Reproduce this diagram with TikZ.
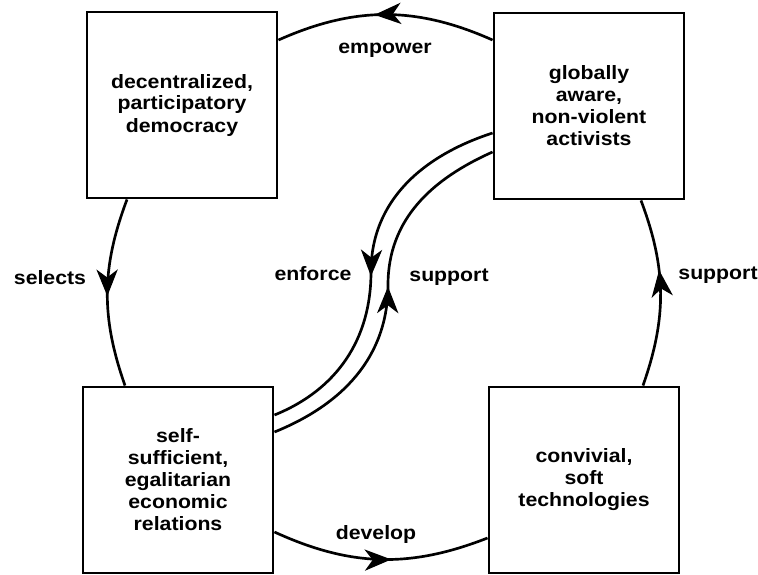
\documentclass[tikz,border=0pt]{standalone}
\usepackage{fontspec}
\setmainfont{Liberation Sans}[FakeStretch=1.1]
\usetikzlibrary{arrows.meta,decorations.markings}

\tikzset{
  box/.style={draw, line width=2.2pt, minimum width=142.5pt, minimum height=139.5pt, align=center, inner sep=2pt},
  lbl/.style={inner sep=0pt},
  link/.style={line width=2pt},
  midarrow/.style={postaction={decorate}, decoration={markings,
      mark=at position #1 with {\arrow[line width=1pt]{Stealth[length=20pt,width=16pt,inset=6pt]}}}}
}

\begin{document}
\begin{tikzpicture}[x=0.75pt, y=0.75pt, font=\bfseries\fontsize{14.5pt}{16.5pt}\selectfont]
        \useasboundingbox (0,0) rectangle (758,-575);

        \node[box] (dem)  at (182,-105) {decentralized,\\participatory\\democracy};
        \node[box] (act)  at (589,-106) {globally\\aware,\\non-violent\\activists};
        \node[box] (eco)  at (178,-480) {self-\\sufficient,\\egalitarian\\economic\\relations};
        \node[box] (tech) at (584,-480) {convivial,\\soft\\technologies};

        % outer ring
        \draw[link, midarrow=0.55] (act.west |- 0,-40) to[bend right=24] (dem.east |- 0,-40);
        \draw[link, midarrow=0.52] (dem.south -| 127,0) to[bend right=20] (eco.north -| 125,0);
        \draw[link, midarrow=0.55] (eco.east |- 0,-532) to[bend right=23] (tech.west |- 0,-538);
        \draw[link, midarrow=0.62] (tech.north -| 643,0) to[bend right=20] (act.south -| 641,0);

        % inner double link
        \coordinate (mA) at (371,-272);
        \coordinate (mB) at (388,-285);
        \draw[link, midarrow=0.53] (act.west |- 0,-133) to[out=198,in=90] (mA) to[out=270,in=22] (eco.east |- 0,-415);
        \draw[link, midarrow=0.52] (eco.east |- 0,-432) to[out=22,in=270] (mB) to[out=90,in=204] (act.west |- 0,-152);

        \node[lbl] (lempower) at (385,-50)  {empower};
        \node[lbl] (lselects) at (50,-278)  {selects};
        \node[lbl] (lenforce) at (313,-274) {enforce};
        \node[lbl] (lsupin)   at (449,-277) {support};
        \node[lbl] (lsupout)  at (718,-275) {support};
        \node[lbl] (ldevelop) at (376,-534) {develop};
\end{tikzpicture}
\end{document}
